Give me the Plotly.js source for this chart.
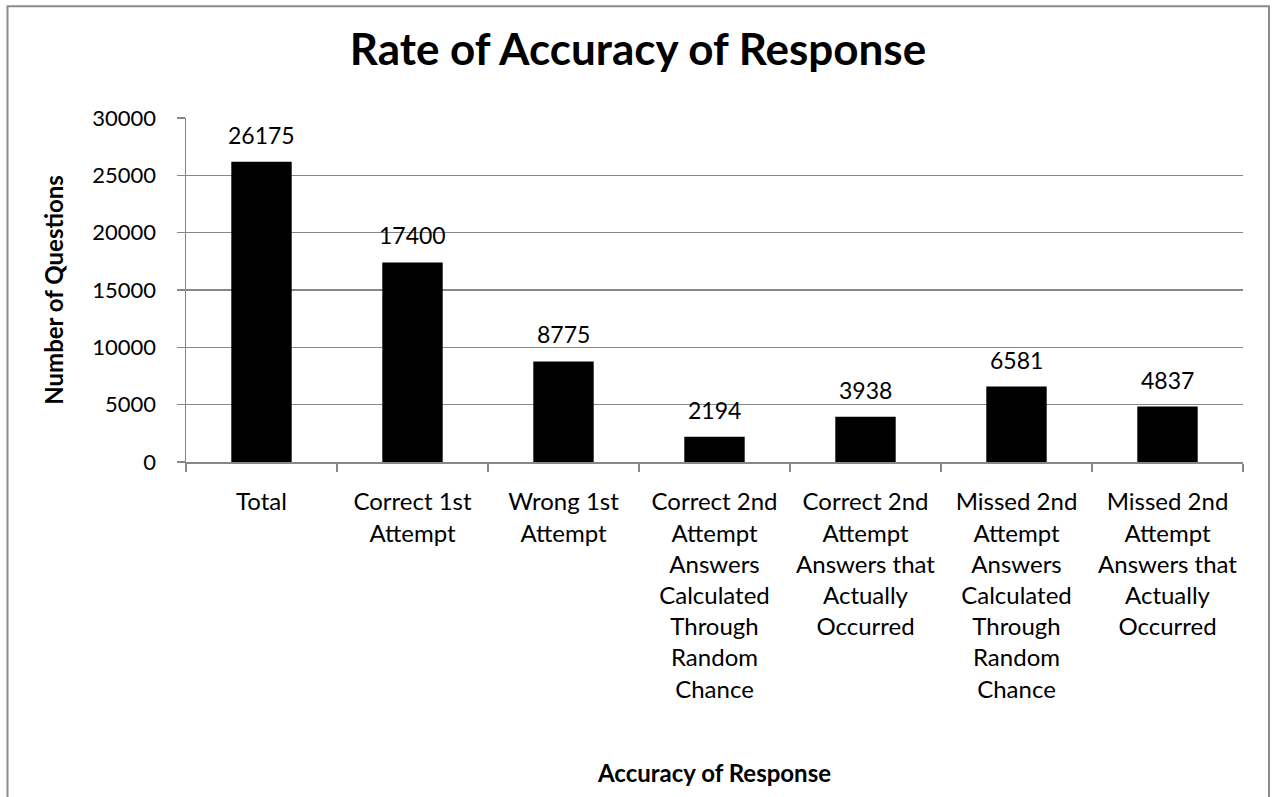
<!DOCTYPE html>
<html>
<head>
<meta charset="utf-8">
<script src="https://cdn.plot.ly/plotly-3.0.1.min.js"></script>
<style>
html,body{margin:0;padding:0;background:#fff;}
#chart{width:1276px;height:797px;}
</style>
</head>
<body>
<div id="chart"></div>
<script>
const categories = [
  "Total",
  "Correct 1st<br>Attempt",
  "Wrong 1st<br>Attempt",
  "Correct 2nd<br>Attempt<br>Answers<br>Calculated<br>Through<br>Random<br>Chance",
  "Correct 2nd<br>Attempt<br>Answers that<br>Actually<br>Occurred",
  "Missed 2nd<br>Attempt<br>Answers<br>Calculated<br>Through<br>Random<br>Chance",
  "Missed 2nd<br>Attempt<br>Answers that<br>Actually<br>Occurred"
];
const values = [26175, 17400, 8775, 2194, 3938, 6581, 4837];
const yTickValues = [0, 5000, 10000, 15000, 20000, 25000, 30000];

const FONT = "Lato, 'Open Sans', sans-serif";
const GRAY = "#878787";

const trace = {
  type: "bar",
  x: categories,
  y: values,
  marker: {color: "#000000", line: {width: 0}},
  width: 0.4,
  hoverinfo: "skip"
};

const annotations = categories.map((c, i) => ({
  x: c, y: values[i], xref: "x", yref: "y",
  text: String(values[i]), showarrow: false,
  yanchor: "bottom", yshift: 11,
  font: {family: FONT, size: 23, color: "#000"}
}));

const layout = {
  width: 1276, height: 797,
  margin: {l: 186, r: 33, t: 117.5, b: 335},
  paper_bgcolor: "#fff", plot_bgcolor: "#fff",
  font: {family: FONT, size: 22, color: "#000"},
  title: {
    text: "<b>Rate of Accuracy of Response</b>",
    x: 0.5, xref: "container", y: 1 - 50/797, yref: "container", yanchor: "middle",
    font: {family: FONT, size: 44, color: "#000"}
  },
  xaxis: {
    type: "category",
    tickson: "boundaries",
    ticks: "outside", ticklen: 8, tickwidth: 1.5, tickcolor: GRAY,
    ticklabelstandoff: 18,
    showline: true, linecolor: GRAY, linewidth: 1.5,
    showgrid: false, zeroline: false,
    tickfont: {family: FONT, size: 24, color: "#000"},
    title: {text: "<b>Accuracy of Response</b>", font: {family: FONT, size: 24, color: "#000"}, standoff: 63},
    fixedrange: true
  },
  yaxis: {
    range: [0, 30000],
    tickvals: yTickValues,
    ticktext: yTickValues.map(String),
    ticks: "outside", ticklen: 8, tickwidth: 1.5, tickcolor: GRAY,
    ticklabelstandoff: 16,
    showline: true, linecolor: GRAY, linewidth: 1.5,
    showgrid: true, gridcolor: GRAY, gridwidth: 1.2,
    zeroline: false,
    tickfont: {family: FONT, size: 22, color: "#000"},
    title: {text: "<b>Number of Questions</b>", font: {family: FONT, size: 24, color: "#000"}, standoff: 22},
    fixedrange: true
  },
  annotations: annotations,
  shapes: [{
    type: "rect", xref: "paper", yref: "paper",
    x0: (7.5 - 186) / 1057, x1: (1269 - 186) / 1057,
    y0: (462 - 820) / 344.5, y1: (462 - 5.5) / 344.5,
    line: {color: "#8c8c8c", width: 2}, fillcolor: "rgba(0,0,0,0)", layer: "below"
  }],
  showlegend: false,
  bargap: 0.6
};

Plotly.newPlot("chart", [trace], layout, {displayModeBar: false, staticPlot: true});
</script>
</body>
</html>
